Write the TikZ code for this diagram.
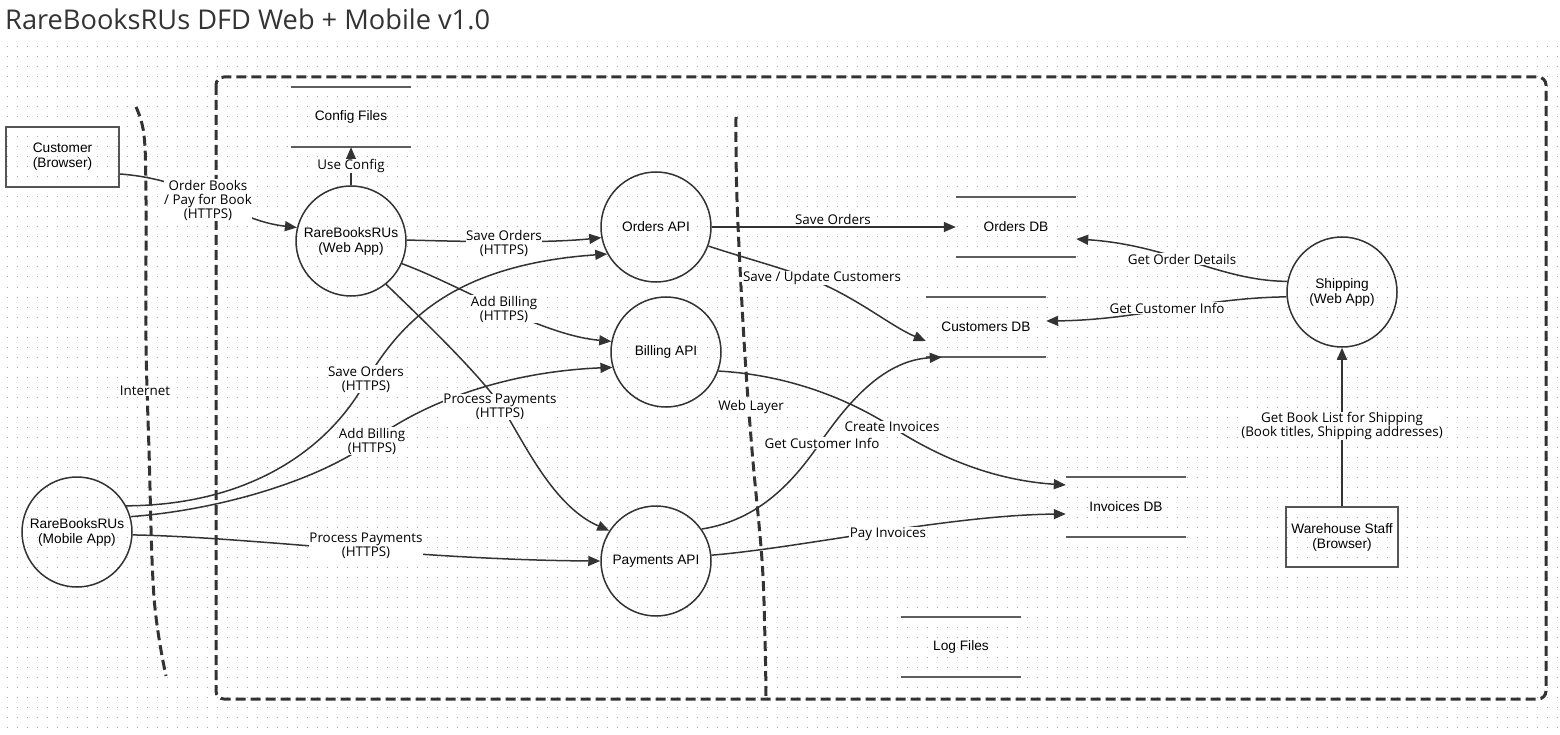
\documentclass[tikz,border=0pt]{standalone}
\usepackage{fontspec}
\setmainfont{Liberation Sans}
\newfontfamily\labelfont{Open Sans}
\usetikzlibrary{arrows.meta}

\definecolor{ink}{HTML}{333333}
\definecolor{boxline}{HTML}{555555}
\definecolor{barline}{HTML}{5E5E5E}
\definecolor{griddot}{HTML}{A8A8A8}

\tikzset{
  process/.style={circle, draw=ink, line width=1.5pt, minimum size=110pt, inner sep=0pt,
    align=center, font=\fontsize{13.7}{15}\selectfont},
  entity/.style={rectangle, draw=boxline, line width=2pt, minimum width=113pt, minimum height=60pt,
    inner sep=0pt, align=center, font=\fontsize{13.7}{15}\selectfont},
  store/.style={rectangle, minimum width=120pt, minimum height=60pt, inner sep=0pt,
    align=center, font=\fontsize{13.7}{15}\selectfont},
  storebar/.style={draw=barline, line width=2pt},
  flow/.style={draw=ink, line width=1.5pt, -{Triangle[length=12pt,width=10pt]}},
  flowlabel/.style={fill=white, inner sep=0.6pt, align=center,
    font=\labelfont\fontsize{13.4}{14}\selectfont},
  boundary/.style={draw=ink, line width=3pt, dash pattern=on 10pt off 5pt},
  griddots/.style={draw=griddot, line width=1pt, dash pattern=on 1pt off 9pt},
}

\begin{document}
\begin{tikzpicture}[x=1pt,y=-1pt]
\useasboundingbox (0,0) rectangle (1560,735);
\fill[white] (0,0) rectangle (1560,735);

% dotted canvas grid
\foreach \r in {0,...,68}
  \draw[griddots] (6.5,47+10*\r) -- (1557,47+10*\r);

% title
\node[anchor=base west, inner sep=0pt, text=ink, font=\labelfont\fontsize{27.2}{30}\selectfont]
  (title) at (5,30) {RareBooksRUs DFD Web + Mobile v1.0};

% trust boundaries
\draw[boundary, rounded corners=8pt] (216,77) rectangle (1546,699);
\draw[boundary] plot[smooth, tension=0.6] coordinates
  {(136,107) (144,135) (146,200) (146,340) (149,450) (154,597) (166,676)};
\draw[boundary] plot[smooth, tension=0.6] coordinates
  {(736,117) (737,200) (744,340) (752,450) (762,560) (765,640) (766,697)};

% external entities
\node[entity] (cust) at (62.5,157) {Customer\\(Browser)};
\node[entity, minimum width=112pt] (wh) at (1342,537) {Warehouse Staff\\(Browser)};

% processes
\node[process] (web) at (351,241) {RareBooksRUs\\(Web App)};
\node[process] (mob) at (77,532) {RareBooksRUs\\(Mobile App)};
\node[process] (ord) at (656,227) {Orders API};
\node[process] (bil) at (666,352) {Billing API};
\node[process] (pay) at (656,561) {Payments API};
\node[process] (ship) at (1342,292) {Shipping\\(Web App)};

% data stores
\node[store] (cfg) at (351,117) {Config Files};
\node[store] (odb) at (1016,227) {Orders DB};
\node[store] (cdb) at (986,327) {Customers DB};
\node[store] (idb) at (1126,507) {Invoices DB};
\node[store] (logs) at (961,647) {Log Files};
\foreach \s in {cfg,odb,cdb,idb,logs}{
  \draw[storebar] (\s.north west) -- (\s.north east);
  \draw[storebar] (\s.south west) -- (\s.south east);
}

% waypoints of the bent flows
\coordinate (w4) at (499,403);
\coordinate (w5) at (367,379);
\coordinate (w6) at (372,441);
\coordinate (w9) at (835,290);
\coordinate (w13) at (892,427);
\coordinate (w14) at (822,440);

% data flows
\draw[flow] ([yshift=-17pt]cust.east) .. controls (200,180) and (230,220) .. (web.166);
\draw[flow] (web.north) -- (cfg.south);
\draw[flow] (web.1) .. controls (480,242) and (550,243) .. (ord.191);
\draw[flow] (web.-24) .. controls (460,285) and (540,335) .. (bil.169);
\draw[flow] (web.-51) .. controls (425,322) and (475,370) .. (w4)
  .. controls (520,433) and (550,505) .. (pay.147);
\draw[flow] (mob.28) .. controls (260,505) and (335,440) .. (w5)
  .. controls (400,325) and (450,265) .. (ord.209);
\draw[flow] (mob.16) .. controls (220,510) and (320,480) .. (w6)
  .. controls (420,405) and (500,372) .. (bil.196);
\draw[flow] (mob.-3) .. controls (250,537) and (420,560) .. (pay.180);
\draw[flow] (ord.0) -- (odb.west);
\draw[flow] (ord.-20) .. controls (760,263) and (800,272) .. (w9)
  .. controls (870,308) and (895,328) .. ([yshift=-14pt]cdb.west);
\draw[flow] (ship.169) .. controls (1220,281) and (1170,245) .. ([yshift=-12pt]odb.east);
\draw[flow] (ship.-175) .. controls (1200,298) and (1140,320) .. ([yshift=6pt]cdb.east);
\draw[flow] (wh.north) -- (ship.south);
\draw[flow] (bil.-20) .. controls (790,375) and (850,400) .. (w13)
  .. controls (935,455) and (990,480) .. ([yshift=22pt]idb.west);
\draw[flow] (pay.35) .. controls (760,520) and (795,480) .. (w14)
  .. controls (850,400) and (885,360) .. ([xshift=16pt]cdb.south west);
\draw[flow] (pay.6) .. controls (800,548) and (950,515) .. ([yshift=-7pt]idb.west);

% flow and boundary labels
\node[flowlabel] (l1) at (208,200) {Order Books\\/ Pay for Book\\(HTTPS)};
\node[flowlabel] (l0) at (351,166) {Use Config};
\node[flowlabel] (l2) at (504,243) {Save Orders\\(HTTPS)};
\node[flowlabel] (l3) at (504,309) {Add Billing\\(HTTPS)};
\node[flowlabel] (l4) at (500,407) {Process Payments\\(HTTPS)};
\node[flowlabel] (l5) at (366,379) {Save Orders\\(HTTPS)};
\node[flowlabel] (l6) at (372,441) {Add Billing\\(HTTPS)};
\node[flowlabel] (l7) at (366,546) {Process Payments\\(HTTPS)};
\node[flowlabel] (l8) at (833,219) {Save Orders};
\node[flowlabel] (l9) at (822,278) {Save / Update Customers};
\node[flowlabel] (l10) at (1182,259) {Get Order Details};
\node[flowlabel] (l11) at (1167,308) {Get Customer Info};
\node[flowlabel] (l12) at (1342,426) {Get Book List for Shipping\\(Book titles, Shipping addresses)};
\node[flowlabel] (l13) at (892,427) {Create Invoices};
\node[flowlabel] (l14) at (822,443) {Get Customer Info};
\node[flowlabel] (l15) at (888,534) {Pay Invoices};
\node[flowlabel] (lnet) at (145,391) {Internet};
\node[flowlabel] (lweb) at (751,407) {Web Layer};
\end{tikzpicture}
\end{document}
